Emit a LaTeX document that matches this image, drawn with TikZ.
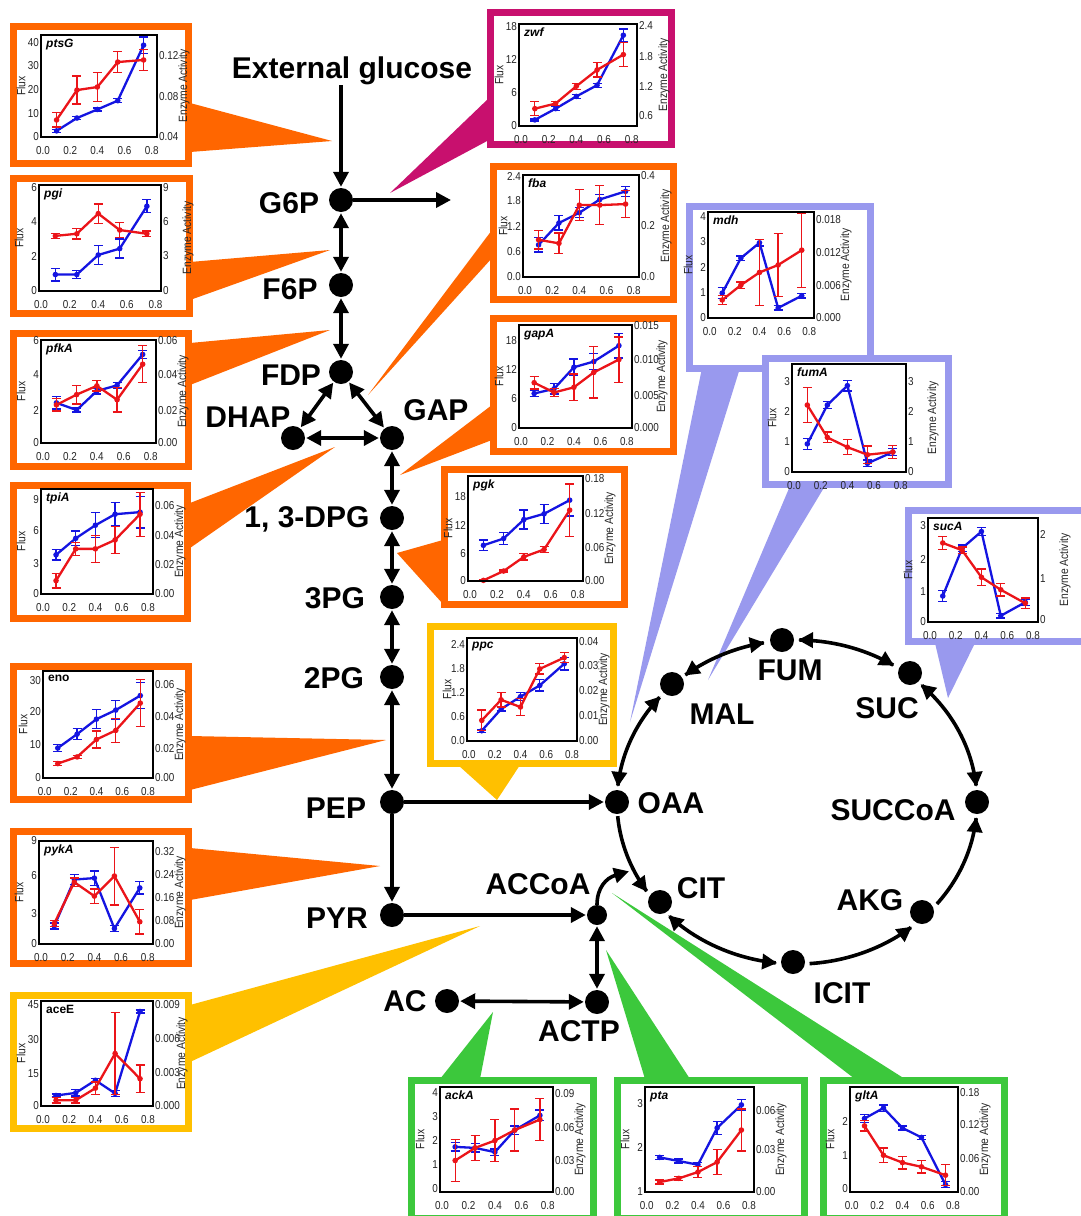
\documentclass[tikz,border=0pt]{standalone}
\usepackage{fontspec}
\setmainfont{Liberation Sans}
\newfontfamily\narrowsans[FakeStretch=0.86]{Liberation Sans}
\usetikzlibrary{arrows.meta}
\definecolor{orng}{RGB}{255,102,0}
\definecolor{yllw}{RGB}{255,192,0}
\definecolor{crim}{RGB}{200,16,110}
\definecolor{lav}{RGB}{153,153,238}
\definecolor{grn}{RGB}{60,200,60}
\definecolor{rd}{RGB}{235,20,25}
\definecolor{bl}{RGB}{20,20,225}

\newcommand\panelframe[5]{\draw[line width=7pt,#1,fill=white] (#2+3.5,#3+3.5) rectangle (#4-3.5,#5-3.5);}
\newcommand\wedgeshape[4]{\fill[#1] #2 -- #3 -- #4 -- cycle;}
\newcommand\plotbox[5][27]{%
 \gdef\bxa{#2}\gdef\bya{#3}\gdef\bxb{#4}\gdef\byb{#5}%
 \foreach \v in {0.0,0.2,0.4,0.6,0.8}
   \node[ticktxt,anchor=north] at ({#2+(0.017+1.172*\v)*(#4-#2)},#5+8) {\v};
 \node[axtxt,rotate=90] at (#2-20,{(#3+#5)/2}) {Flux};
 \node[axtxt,rotate=90] at (#4+#1,{(#3+#5)/2}) {Enzyme Activity};
}
\newcommand\lticks[1]{\foreach \f/\lab in {#1} \node[ticktxt,anchor=east] at (\bxa-1,{\byb-\f*(\byb-\bya)}) {\lab};}
\newcommand\rticks[1]{\foreach \f/\lab in {#1} \node[ticktxt,anchor=west] at (\bxb+1,{\byb-\f*(\byb-\bya)}) {\lab};}
\newcommand\series[2]{%
  \foreach \xd/\yd/\ed [count=\k] in {#2}{%
    \pgfmathsetmacro\xx{\bxa+(0.017+1.172*\xd)*(\bxb-\bxa)}%
    \pgfmathsetmacro\yy{\byb-\yd*(\byb-\bya)}%
    \pgfmathsetmacro\ee{\ed*(\byb-\bya)}%
    \coordinate (s\k) at (\xx,\yy);
    \draw[#1,line width=1.3pt] (\xx,\yy-\ee) -- (\xx,\yy+\ee) (\xx-4.5,\yy-\ee) -- (\xx+4.5,\yy-\ee) (\xx-4.5,\yy+\ee) -- (\xx+4.5,\yy+\ee);
  }
  \draw[#1,line width=2.3pt,line join=round] (s1)--(s2)--(s3)--(s4)--(s5);
  \foreach \k in {1,...,5} \fill[#1] (s\k) circle (2.8);
}
\newcommand\finishbox[1]{%
  \draw[line width=2pt] (\bxa,\bya) rectangle (\bxb,\byb);
  \node[genetxt,anchor=north west] at (\bxa+4,\bya+3) {#1};
}
\newcommand\tca[3]{\draw[#1] plot[domain=#2:#3,samples=40,smooth] ({797+180*cos(\x)},{802+162*sin(\x)});}

\begin{document}
\begin{tikzpicture}[x=1pt,y=-1pt,
  ticktxt/.style={font=\narrowsans\fontsize{11.5}{12}\selectfont, text=black!85, inner sep=1pt},
  axtxt/.style={font=\narrowsans\fontsize{12}{13}\selectfont, text=black!85, inner sep=0pt},
  genetxt/.style={font=\fontsize{12}{14}\selectfont\bfseries\itshape, inner sep=1pt},
  lbl/.style={font=\fontsize{30}{36}\selectfont\bfseries, inner sep=0pt},
  met/.style={circle, fill=black, minimum size=24pt, inner sep=0pt},
  arr/.style={line width=3.6pt, -{Triangle[length=15pt,width=15pt]}, shorten >=1pt},
  darr/.style={line width=3.6pt, {Triangle[length=15pt,width=15pt]}-{Triangle[length=15pt,width=15pt]}, shorten >=1pt, shorten <=1pt}]
\useasboundingbox (0,0) rectangle (1081,1216);
\clip (0,0) rectangle (1081,1216);
\fill[white] (0,0) rectangle (1081,1216);

% ---------- callout wedges ----------
\wedgeshape{orng}{(190,103)}{(332,141)}{(190,152)}
\wedgeshape{orng}{(190,262)}{(330,250)}{(190,300)}
\wedgeshape{orng}{(190,343)}{(330,330)}{(190,385)}
\wedgeshape{orng}{(190,503)}{(335,447)}{(190,548)}
\wedgeshape{orng}{(190,736)}{(386,740)}{(190,790)}
\wedgeshape{orng}{(190,848)}{(380,866)}{(190,900)}
\wedgeshape{yllw}{(190,1005)}{(480,926)}{(190,1062)}
\wedgeshape{crim}{(489,98)}{(390,193)}{(489,140)}
\wedgeshape{orng}{(492,230)}{(368,395)}{(492,258)}
\wedgeshape{orng}{(492,405)}{(400,475)}{(492,440)}
\wedgeshape{orng}{(443,540)}{(397,553)}{(443,604)}
\wedgeshape{yllw}{(458,765)}{(497,800)}{(520,765)}
\wedgeshape{lav}{(702,368)}{(630,722)}{(740,368)}
\wedgeshape{lav}{(790,486)}{(708,680)}{(825,486)}
\wedgeshape{lav}{(935,643)}{(948,698)}{(975,643)}
\wedgeshape{grn}{(440,1079)}{(493,1012)}{(480,1079)}
\wedgeshape{grn}{(645,1079)}{(606,950)}{(690,1079)}
\wedgeshape{grn}{(855,1079)}{(612,893)}{(905,1079)}

% ---------- panels ----------
% ptsG
\panelframe{orng}{10}{23}{192}{167}
\plotbox{41}{35}{157}{137}
\lticks{0/0,0.233/10,0.466/20,0.70/30,0.93/40}
\rticks{0/0.04,0.40/0.08,0.80/0.12}
\series{bl}{0.1/0.06/0.015,0.25/0.186/0.015,0.4/0.27/0.015,0.55/0.356/0.02,0.74/0.90/0.08}
\series{rd}{0.1/0.167/0.07,0.25/0.46/0.137,0.4/0.49/0.14,0.55/0.735/0.105,0.74/0.755/0.10}
\finishbox{ptsG}
% pgi
\panelframe{orng}{10}{175}{193}{317}
\plotbox{39}{185}{161}{291}
\lticks{0/0,0.33/2,0.66/4,0.98/6}
\rticks{0/0,0.33/3,0.66/6,0.98/9}
\series{bl}{0.1/0.155/0.06,0.25/0.155/0.04,0.4/0.34/0.09,0.55/0.40/0.09,0.74/0.80/0.06}
\series{rd}{0.1/0.52/0.025,0.25/0.54/0.05,0.4/0.73/0.09,0.55/0.575/0.07,0.74/0.54/0.025}
\finishbox{pgi}
% pfkA
\panelframe{orng}{10}{330}{192}{470}
\plotbox{41}{340}{156}{443}
\lticks{0/0,0.32/2,0.66/4,0.99/6}
\rticks{0/0.00,0.32/0.02,0.66/0.04,0.99/0.06}
\series{bl}{0.1/0.39/0.06,0.25/0.32/0.02,0.4/0.505/0.03,0.55/0.56/0.03,0.74/0.86/0.04}
\series{rd}{0.1/0.37/0.06,0.25/0.47/0.09,0.4/0.555/0.05,0.55/0.42/0.12,0.74/0.765/0.18}
\finishbox{pfkA}
% tpiA
\panelframe{orng}{10}{482}{191}{622}
\plotbox{41}{489}{153}{594}
\lticks{0/0,0.29/3,0.60/6,0.895/9}
\rticks{0/0.00,0.285/0.02,0.56/0.04,0.84/0.06}
\series{bl}{0.1/0.373/0.05,0.25/0.53/0.07,0.4/0.655/0.12,0.55/0.76/0.11,0.74/0.78/0.15}
\series{rd}{0.1/0.127/0.07,0.25/0.43/0.06,0.4/0.43/0.13,0.55/0.515/0.13,0.74/0.76/0.21}
\finishbox{tpiA}
% eno
\panelframe{orng}{10}{663}{192}{803}
\plotbox{43}{671}{153}{778}
\lticks{0/0,0.31/10,0.62/20,0.915/30}
\rticks{0/0.00,0.28/0.02,0.57/0.04,0.87/0.06}
\series{bl}{0.1/0.28/0.03,0.25/0.41/0.05,0.4/0.55/0.09,0.55/0.635/0.09,0.74/0.77/0.12}
\series{rd}{0.1/0.135/0.02,0.25/0.197/0.015,0.4/0.36/0.08,0.55/0.445/0.11,0.74/0.70/0.22}
\draw[line width=2pt] (\bxa,\bya) rectangle (\bxb,\byb);
\node[genetxt,font=\fontsize{12}{14}\selectfont\bfseries,anchor=north west] at (\bxa+4,\bya+3) {eno};
% pykA
\panelframe{orng}{10}{828}{192}{967}
\plotbox{39}{841}{153}{944}
\lticks{0/0,0.30/3,0.66/6,1.0/9}
\rticks{0/0.00,0.23/0.08,0.45/0.16,0.67/0.24,0.90/0.32}
\series{bl}{0.1/0.175/0.03,0.25/0.626/0.05,0.4/0.64/0.07,0.55/0.15/0.03,0.74/0.545/0.06}
\series{rd}{0.1/0.20/0.03,0.25/0.60/0.04,0.4/0.465/0.07,0.55/0.66/0.28,0.74/0.216/0.12}
\finishbox{pykA}
% aceE
\panelframe{yllw}{10}{992}{192}{1132}
\plotbox[29]{41}{1001}{153}{1106}
\lticks{0/0,0.31/15,0.63/30,0.97/45}
\rticks{0/0.000,0.32/0.003,0.64/0.006,0.97/0.009}
\series{bl}{0.1/0.10/0.015,0.25/0.125/0.03,0.4/0.245/0.02,0.55/0.12/0.03,0.74/0.90/0.015}
\series{rd}{0.1/0.055/0.025,0.25/0.055/0.025,0.4/0.17/0.06,0.55/0.50/0.39,0.74/0.26/0.13}
\draw[line width=2pt] (\bxa,\bya) rectangle (\bxb,\byb);
\node[genetxt,font=\fontsize{12}{14}\selectfont\bfseries,anchor=north west] at (\bxa+4,\bya+3) {aceE};
% zwf
\panelframe{crim}{487}{9}{675}{148}
\plotbox{519}{24}{637}{126}
\lticks{0/0,0.33/6,0.65/12,0.98/18}
\rticks{0.10/0.6,0.39/1.2,0.68/1.8,0.99/2.4}
\series{bl}{0.1/0.06/0.01,0.25/0.17/0.02,0.4/0.29/0.02,0.55/0.40/0.02,0.74/0.89/0.06}
\series{rd}{0.1/0.17/0.07,0.25/0.22/0.02,0.4/0.39/0.03,0.55/0.55/0.07,0.74/0.70/0.12}
\finishbox{zwf}
% fba
\panelframe{orng}{490}{163}{677}{303}
\plotbox{523}{175}{639}{277}
\lticks{0/0.0,0.25/0.6,0.50/1.2,0.745/1.8,0.99/2.4}
\rticks{0/0.0,0.50/0.2,0.99/0.4}
\series{bl}{0.1/0.315/0.07,0.25/0.53/0.07,0.4/0.63/0.05,0.55/0.76/0.05,0.74/0.84/0.05}
\series{rd}{0.1/0.365/0.09,0.25/0.33/0.1,0.4/0.705/0.15,0.55/0.705/0.19,0.74/0.715/0.13}
\finishbox{fba}
% gapA
\panelframe{orng}{490}{315}{677}{455}
\plotbox[30]{519}{325}{632}{428}
\lticks{0/0,0.29/6,0.57/12,0.85/18}
\rticks{0/0.000,0.32/0.005,0.66/0.010,0.99/0.015}
\series{bl}{0.1/0.335/0.03,0.25/0.38/0.05,0.4/0.59/0.08,0.55/0.645/0.08,0.74/0.80/0.12}
\series{rd}{0.1/0.44/0.06,0.25/0.345/0.04,0.4/0.395/0.13,0.55/0.54/0.25,0.74/0.665/0.22}
\finishbox{gapA}
% pgk
\panelframe{orng}{441}{466}{628}{608}
\plotbox{468}{476}{583}{581}
\lticks{0/0,0.26/6,0.53/12,0.80/18}
\rticks{0/0.00,0.32/0.06,0.64/0.12,0.98/0.18}
\series{bl}{0.1/0.34/0.05,0.25/0.405/0.06,0.4/0.585/0.09,0.55/0.64/0.09,0.74/0.77/0.15}
\series{rd}{0.1/0.006/0.01,0.25/0.095/0.01,0.4/0.23/0.03,0.55/0.30/0.03,0.74/0.675/0.25}
\finishbox{pgk}
% ppc
\panelframe{yllw}{427}{623}{617}{767}
\plotbox{467}{638}{577}{741}
\lticks{0/0.0,0.235/0.6,0.47/1.2,0.705/1.8,0.94/2.4}
\rticks{0/0.00,0.245/0.01,0.49/0.02,0.73/0.03,0.97/0.04}
\series{bl}{0.1/0.10/0.015,0.25/0.31/0.02,0.4/0.43/0.04,0.55/0.54/0.055,0.74/0.75/0.06}
\series{rd}{0.1/0.20/0.1,0.25/0.40/0.07,0.4/0.33/0.08,0.55/0.70/0.05,0.74/0.81/0.05}
\finishbox{ppc}
% mdh
\panelframe{lav}{686}{203}{874}{372}
\plotbox[32]{708}{212}{814}{318}
\lticks{0/0,0.24/1,0.48/2,0.72/3,0.96/4}
\rticks{0/0.000,0.31/0.006,0.62/0.012,0.93/0.018}
\series{bl}{0.1/0.235/0.05,0.25/0.565/0.02,0.4/0.71/0.03,0.55/0.095/0.02,0.74/0.21/0.02}
\series{rd}{0.1/0.17/0.04,0.25/0.31/0.03,0.4/0.43/0.31,0.55/0.50/0.3,0.74/0.64/0.35}
\finishbox{mdh}
% fumA
\panelframe{lav}{762}{355}{952}{488}
\plotbox{792}{364}{906}{472}
\lticks{0/0,0.28/1,0.56/2,0.84/3}
\rticks{0/0,0.28/1,0.56/2,0.84/3}
\series{bl}{0.1/0.26/0.05,0.25/0.62/0.03,0.4/0.80/0.05,0.55/0.08/0.03,0.74/0.185/0.03}
\series{rd}{0.1/0.62/0.16,0.25/0.32/0.05,0.4/0.23/0.07,0.55/0.16/0.08,0.74/0.185/0.06}
\finishbox{fumA}
% sucA
\panelframe{lav}{905}{507}{1095}{645}
\plotbox{928}{518}{1038}{622}
\lticks{0/0,0.29/1,0.6/2,0.93/3}
\rticks{0.02/0,0.42/1,0.84/2}
\series{bl}{0.1/0.25/0.05,0.25/0.71/0.03,0.4/0.87/0.04,0.55/0.06/0.02,0.74/0.19/0.03}
\series{rd}{0.1/0.76/0.06,0.25/0.69/0.03,0.4/0.43/0.08,0.55/0.31/0.06,0.74/0.18/0.05}
\finishbox{sucA}
% ackA
\panelframe{grn}{408}{1077}{597}{1222}
\plotbox{440}{1087}{553}{1192}
\lticks{0.03/0,0.26/1,0.49/2,0.72/3,0.95/4}
\rticks{0/0.00,0.30/0.03,0.61/0.06,0.94/0.09}
\series{bl}{0.1/0.43/0.04,0.25/0.42/0.04,0.4/0.38/0.03,0.55/0.59/0.04,0.74/0.73/0.05}
\series{rd}{0.1/0.30/0.2,0.25/0.42/0.12,0.4/0.49/0.2,0.55/0.59/0.2,0.74/0.69/0.2}
\finishbox{ackA}
% pta
\panelframe{grn}{614}{1077}{808}{1222}
\plotbox{645}{1087}{754}{1192}
\lticks{0/1,0.42/2,0.84/3}
\rticks{0/0.00,0.4/0.03,0.78/0.06}
\series{bl}{0.1/0.33/0.02,0.25/0.295/0.02,0.4/0.26/0.02,0.55/0.61/0.06,0.74/0.83/0.05}
\series{rd}{0.1/0.095/0.02,0.25/0.13/0.02,0.4/0.19/0.05,0.55/0.285/0.12,0.74/0.59/0.2}
\finishbox{pta}
% gltA
\panelframe{grn}{820}{1077}{1008}{1222}
\plotbox{850}{1087}{958}{1192}
\lticks{0.03/0,0.35/1,0.67/2}
\rticks{0/0.00,0.32/0.06,0.64/0.12,0.95/0.18}
\series{bl}{0.1/0.70/0.04,0.25/0.80/0.03,0.4/0.61/0.02,0.55/0.52/0.02,0.74/0.07/0.03}
\series{rd}{0.1/0.63/0.05,0.25/0.35/0.07,0.4/0.28/0.06,0.55/0.24/0.06,0.74/0.16/0.1}
\finishbox{gltA}

% ---------- metabolites ----------
\node[lbl] (ext) at (352,71) {External glucose};
\node[met] (G6P) at (341,200) {};
\node[met] (F6P) at (341,285) {};
\node[met] (FDP) at (341,372) {};
\node[met] (DHAP) at (293,438) {};
\node[met] (GAP) at (392,438) {};
\node[met] (DPG) at (392,518) {};
\node[met] (PG3) at (392,597) {};
\node[met] (PG2) at (392,677) {};
\node[met] (PEP) at (392,802) {};
\node[met] (PYR) at (392,915) {};
\node[met,minimum size=20pt] (ACCoA) at (597,915) {};
\node[met] (ACTP) at (597,1002) {};
\node[met] (AC) at (447,1001) {};
\node[met] (OAA) at (617,802) {};
\node[met] (MAL) at (672,684) {};
\node[met] (FUM) at (782,640) {};
\node[met] (SUC) at (910,673) {};
\node[met] (SUCCoA) at (977,802) {};
\node[met] (AKG) at (922,912) {};
\node[met] (ICIT) at (793,962) {};
\node[met] (CIT) at (660,902) {};
\coordinate (ppp) at (452,200);

\node[lbl] at (289,203) {G6P};
\node[lbl] at (290,289) {F6P};
\node[lbl] at (291,375) {FDP};
\node[lbl] at (248,417) {DHAP};
\node[lbl] at (436,410) {GAP};
\node[lbl] at (307,519) {1, 3-DPG};
\node[lbl] at (335,598) {3PG};
\node[lbl] at (334,678) {2PG};
\node[lbl] at (336,808) {PEP};
\node[lbl] at (337,918) {PYR};
\node[lbl] at (538,884) {ACCoA};
\node[lbl] at (405,1001) {AC};
\node[lbl] at (579,1031) {ACTP};
\node[lbl] at (671,803) {OAA};
\node[lbl] at (722,714) {MAL};
\node[lbl] at (790,670) {FUM};
\node[lbl] at (887,708) {SUC};
\node[lbl] at (893,810) {SUCCoA};
\node[lbl] at (870,900) {AKG};
\node[lbl] at (701,888) {CIT};
\node[lbl] at (842,993) {ICIT};

% ---------- reactions ----------
\draw[arr] (ext.south -| G6P) -- (G6P);
\draw[arr] (G6P) -- (ppp);
\draw[darr] (G6P) -- (F6P);
\draw[darr] (F6P) -- (FDP);
\draw[darr] (FDP) -- (DHAP);
\draw[darr] (FDP) -- (GAP);
\draw[darr] (DHAP) -- (GAP);
\draw[darr] (GAP) -- (DPG);
\draw[darr] (DPG) -- (PG3);
\draw[darr] (PG3) -- (PG2);
\draw[darr] (PG2) -- (PEP);
\draw[arr] (PEP) -- (PYR);
\draw[arr] (PEP) -- (OAA);
\draw[arr] (PYR) -- (ACCoA);
\draw[darr] (ACCoA) -- (ACTP);
\draw[darr] (AC) -- (ACTP);
\draw[arr] (ACCoA.north) .. controls (597,888) and (606,878) .. (630,871);

\tca{darr}{185}{221}
\tca{darr}{231}{260}
\tca{darr}{270}{303}
\tca{darr}{313}{355}
\tca{arr}{39}{5}
\tca{arr}{86}{50}
\tca{darr}{136}{96}
\tca{arr}{175}{146}
\end{tikzpicture}
\end{document}
